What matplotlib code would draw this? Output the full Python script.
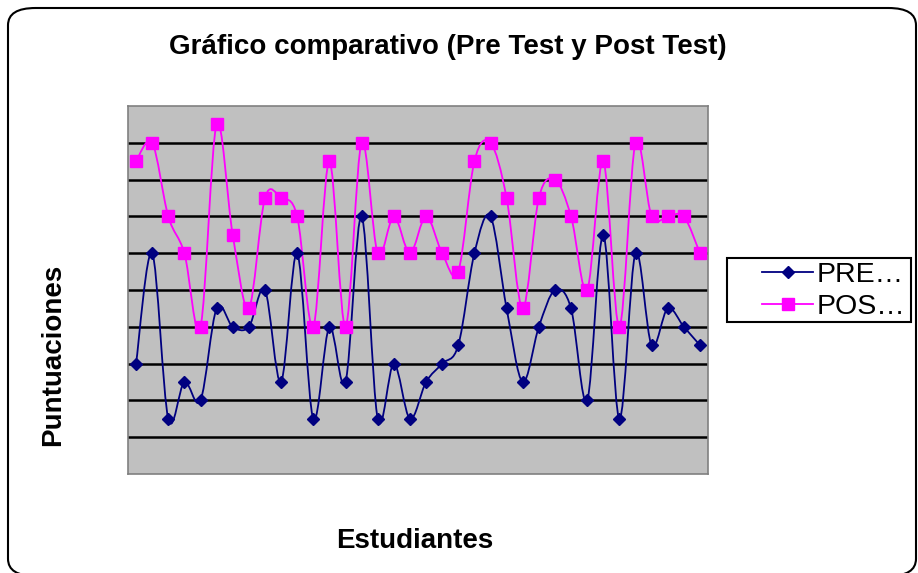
import numpy as np
import matplotlib
matplotlib.use("Agg")
from matplotlib import pyplot as plt
from matplotlib.path import Path
from matplotlib.patches import PathPatch, FancyBboxPatch, Rectangle
from matplotlib.lines import Line2D

plt.rcParams['font.family'] = ['Liberation Sans', 'DejaVu Sans']

# puntuaciones por estudiante (36 estudiantes)
pre_test = [6, 12, 3, 5, 4, 9, 8, 8, 10, 5, 12, 3, 8, 5, 14, 3, 6, 3,
            5, 6, 7, 12, 14, 9, 5, 8, 10, 9, 4, 13, 3, 12, 7, 9, 8, 7]
post_test = [17, 18, 14, 12, 8, 19, 13, 9, 15, 15, 14, 8, 17, 8, 18, 12, 14, 12,
             14, 12, 11, 17, 18, 15, 9, 15, 16, 14, 10, 17, 8, 18, 14, 14, 14, 12]
labels = ["PRE…", "POS…"]

NAVY = "#000080"
PINK = "#FF00FF"
W, H = 918, 573


def smooth_path(ys):
    # curva suavizada tipo Excel (Bezier cubica, Catmull-Rom)
    pts = np.column_stack([np.arange(len(ys)), ys]).astype(float)
    verts = [pts[0]]
    codes = [Path.MOVETO]
    n = len(pts)
    for i in range(n - 1):
        p0 = pts[i - 1] if i > 0 else pts[i]
        p1 = pts[i]
        p2 = pts[i + 1]
        p3 = pts[i + 2] if i + 2 < n else pts[i + 1]
        c1 = p1 + (p2 - p0) / 6.0
        c2 = p2 - (p3 - p1) / 6.0
        verts += [c1, c2, p2]
        codes += [Path.CURVE4] * 3
    return Path(verts, codes)


fig = plt.figure(figsize=(W / 100, H / 100), dpi=100)

# marco redondeado del grafico
frame = FancyBboxPatch((8 / W, 1 - 576 / H), 908 / W, 568 / H,
                       boxstyle="round,pad=0,rounding_size=0.03",
                       transform=fig.transFigure, facecolor="white",
                       edgecolor="black", linewidth=1.5, zorder=-5)
fig.patches.append(frame)

ax = fig.add_axes([128 / W, 99 / H, 580 / W, 368 / H])
ax.set_facecolor("#C0C0C0")
for s in ax.spines.values():
    s.set_color("#808080")
    s.set_linewidth(1.2)

x = np.arange(len(pre_test))
ax.set_xlim(-0.5, len(pre_test) - 0.5)
ax.set_ylim(0, 20)
ax.set_yticks(np.arange(2, 20, 2))
ax.grid(axis="y", color="black", linewidth=1.8)
ax.set_axisbelow(True)
ax.tick_params(left=False, bottom=False, labelleft=False, labelbottom=False)

ax.add_patch(PathPatch(smooth_path(pre_test), facecolor="none", edgecolor=NAVY, linewidth=1.3, zorder=3))
ax.add_patch(PathPatch(smooth_path(post_test), facecolor="none", edgecolor=PINK, linewidth=1.3, zorder=3))
ax.plot(x, pre_test, linestyle="none", marker="D", markersize=6.5, color=NAVY, zorder=4)
ax.plot(x, post_test, linestyle="none", marker="s", markersize=9, color=PINK, zorder=4)

fig.text(448 / W, 1 - 47 / H, "Gráfico comparativo (Pre Test y Post Test)",
         ha="center", va="center", fontsize=20, fontweight="bold")
fig.text(415 / W, 1 - 541 / H, "Estudiantes", ha="center", va="center",
         fontsize=20, fontweight="bold")
fig.text(53 / W, 1 - 355 / H, "Puntuaciones", ha="center", va="center",
         rotation=90, fontsize=20, fontweight="bold")

# leyenda: marco propio y entradas dentro
fig.patches.append(Rectangle((727 / W, 1 - 322 / H), 184 / W, 64 / H,
                             transform=fig.transFigure, facecolor="white",
                             edgecolor="black", linewidth=1.5, zorder=1))
handles = [Line2D([], [], color=NAVY, marker="D", markersize=6.5, linewidth=1.3),
           Line2D([], [], color=PINK, marker="s", markersize=9, linewidth=1.3)]
leg = fig.legend(handles, labels, loc="center left",
                 bbox_to_anchor=(762 / W, 1 - 291 / H),
                 fontsize=20.5, frameon=False,
                 handlelength=1.8, handletextpad=0.12, borderpad=0,
                 labelspacing=0.2, borderaxespad=0)
leg.set_zorder(2)

fig.savefig("out.png", dpi=100)
